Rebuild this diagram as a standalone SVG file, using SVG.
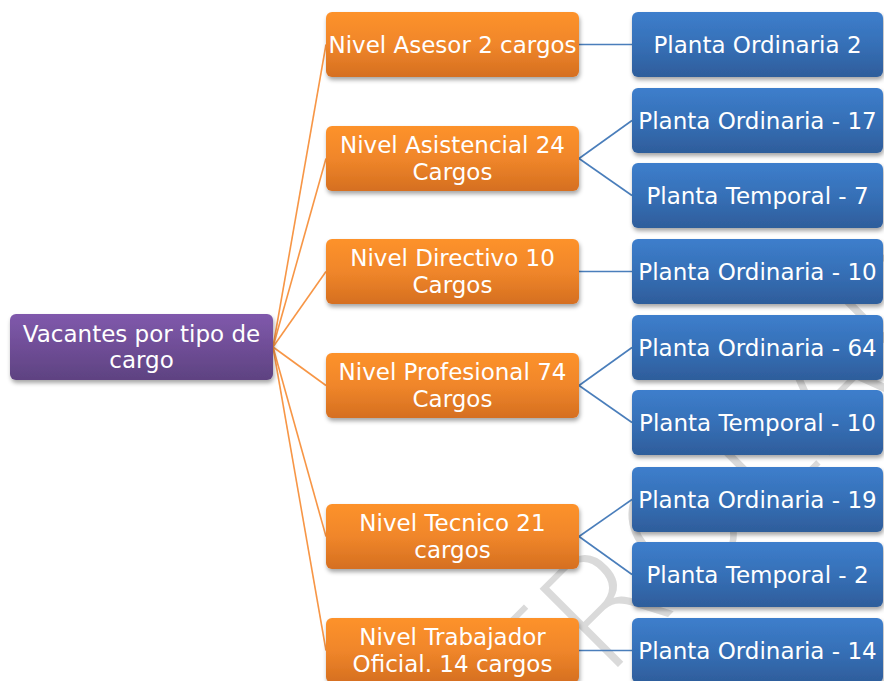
<svg xmlns="http://www.w3.org/2000/svg" width="884" height="681" viewBox="0 0 884 681">
<defs>
<linearGradient id="gPurple" x1="0" y1="0" x2="0" y2="1">
<stop offset="0" stop-color="#8059AC"/><stop offset="1" stop-color="#5E4281"/>
</linearGradient>
<linearGradient id="gOrange" x1="0" y1="0" x2="0" y2="1">
<stop offset="0" stop-color="#FD922C"/><stop offset="0.5" stop-color="#F0862A"/><stop offset="1" stop-color="#D56F20"/>
</linearGradient>
<linearGradient id="gBlue" x1="0" y1="0" x2="0" y2="1">
<stop offset="0" stop-color="#3D7ECC"/><stop offset="0.5" stop-color="#3670B7"/><stop offset="1" stop-color="#2E5D9B"/>
</linearGradient>
<filter id="sh" x="-10%" y="-20%" width="120%" height="150%">
<feDropShadow dx="1" dy="3" stdDeviation="2" flood-color="#000" flood-opacity="0.35"/>
</filter>
<style>
.box{filter:url(#sh);}
.p{fill:url(#gPurple);}
.o{fill:url(#gOrange);}
.b{fill:url(#gBlue);}
.t{font-family:"DejaVu Sans","Liberation Sans",sans-serif;font-size:23px;fill:#FFFFFF;text-anchor:middle;}
.co{stroke:#F79646;stroke-width:1.6;fill:none;}
.cb{stroke:#4A7EBB;stroke-width:1.6;fill:none;}
.wm{font-family:"DejaVu Sans","Liberation Sans",sans-serif;font-weight:200;font-size:152px;fill:#DADADA;}
</style>
</defs>
<rect width="884" height="681" fill="#FFFFFF"/>
<text class="wm" transform="translate(299,986) rotate(-45)">CONTROLADA</text>
<g id="connectors">
<line class="co" x1="273" y1="347" x2="326" y2="44.5"/>
<line class="co" x1="273" y1="347" x2="326" y2="158.5"/>
<line class="co" x1="273" y1="347" x2="326" y2="271.5"/>
<line class="co" x1="273" y1="347" x2="326" y2="385.5"/>
<line class="co" x1="273" y1="347" x2="326" y2="536.5"/>
<line class="co" x1="273" y1="347" x2="326" y2="650.5"/>
<line class="cb" x1="579" y1="44.5" x2="632" y2="44.5"/>
<line class="cb" x1="579" y1="158.5" x2="632" y2="120.5"/>
<line class="cb" x1="579" y1="158.5" x2="632" y2="195.5"/>
<line class="cb" x1="579" y1="271.5" x2="632" y2="271.5"/>
<line class="cb" x1="579" y1="385.5" x2="632" y2="347.5"/>
<line class="cb" x1="579" y1="385.5" x2="632" y2="422.5"/>
<line class="cb" x1="579" y1="536.5" x2="632" y2="499.5"/>
<line class="cb" x1="579" y1="536.5" x2="632" y2="574.5"/>
<line class="cb" x1="579" y1="650.5" x2="632" y2="650.5"/>
</g>
<g id="root"><rect class="box p" x="10" y="314" width="263" height="66" rx="6"/>
<text class="t" x="141.5" y="342">Vacantes por tipo de</text><text class="t" x="141.5" y="368">cargo</text></g>
<g id="asesor"><rect class="box o" x="326" y="12" width="253" height="65" rx="6"/>
<text class="t" x="452.5" y="53">Nivel Asesor 2 cargos</text></g>
<g id="asistencial"><rect class="box o" x="326" y="126" width="253" height="65" rx="6"/>
<text class="t" x="452.5" y="153">Nivel Asistencial 24</text><text class="t" x="452.5" y="180">Cargos</text></g>
<g id="directivo"><rect class="box o" x="326" y="239" width="253" height="65" rx="6"/>
<text class="t" x="452.5" y="266">Nivel Directivo 10</text><text class="t" x="452.5" y="293">Cargos</text></g>
<g id="profesional"><rect class="box o" x="326" y="353" width="253" height="65" rx="6"/>
<text class="t" x="452.5" y="380">Nivel Profesional 74</text><text class="t" x="452.5" y="407">Cargos</text></g>
<g id="tecnico"><rect class="box o" x="326" y="504" width="253" height="65" rx="6"/>
<text class="t" x="452.5" y="531">Nivel Tecnico 21</text><text class="t" x="452.5" y="558">cargos</text></g>
<g id="trabajador"><rect class="box o" x="326" y="618" width="253" height="65" rx="6"/>
<text class="t" x="452.5" y="645">Nivel Trabajador</text><text class="t" x="452.5" y="672">Oficial. 14 cargos</text></g>
<g id="asesor-po"><rect class="box b" x="632" y="12" width="251" height="65" rx="6"/>
<text class="t" x="757.5" y="53">Planta Ordinaria 2</text></g>
<g id="asistencial-po"><rect class="box b" x="632" y="88" width="251" height="65" rx="6"/>
<text class="t" x="757.5" y="129">Planta Ordinaria - 17</text></g>
<g id="asistencial-pt"><rect class="box b" x="632" y="163" width="251" height="65" rx="6"/>
<text class="t" x="757.5" y="204">Planta Temporal - 7</text></g>
<g id="directivo-po"><rect class="box b" x="632" y="239" width="251" height="65" rx="6"/>
<text class="t" x="757.5" y="280">Planta Ordinaria - 10</text></g>
<g id="profesional-po"><rect class="box b" x="632" y="315" width="251" height="65" rx="6"/>
<text class="t" x="757.5" y="356">Planta Ordinaria - 64</text></g>
<g id="profesional-pt"><rect class="box b" x="632" y="390" width="251" height="65" rx="6"/>
<text class="t" x="757.5" y="431">Planta Temporal - 10</text></g>
<g id="tecnico-po"><rect class="box b" x="632" y="467" width="251" height="65" rx="6"/>
<text class="t" x="757.5" y="508">Planta Ordinaria - 19</text></g>
<g id="tecnico-pt"><rect class="box b" x="632" y="542" width="251" height="65" rx="6"/>
<text class="t" x="757.5" y="583">Planta Temporal - 2</text></g>
<g id="trabajador-po"><rect class="box b" x="632" y="618" width="251" height="65" rx="6"/>
<text class="t" x="757.5" y="659">Planta Ordinaria - 14</text></g>
</svg>
